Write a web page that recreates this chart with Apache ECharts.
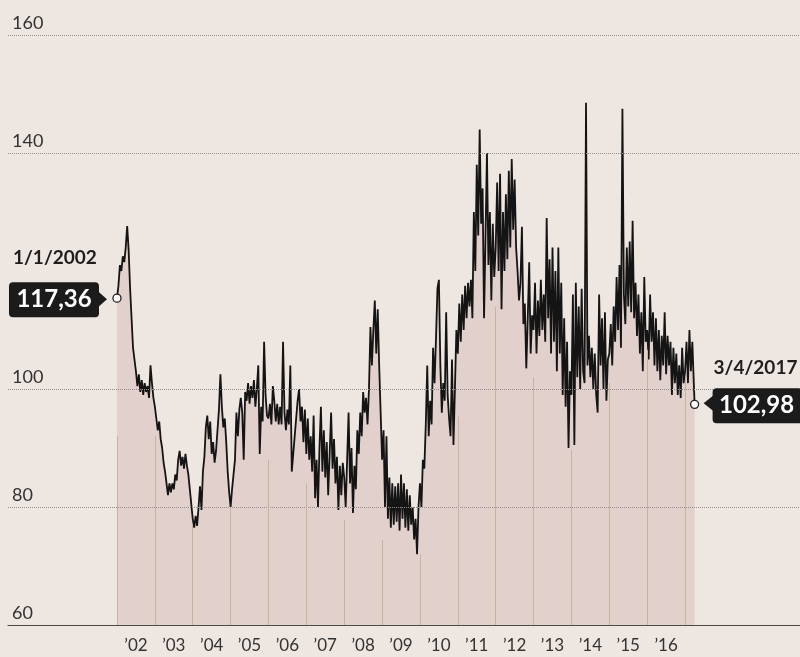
<!DOCTYPE html>
<html><head><meta charset="utf-8">
<script src="https://cdn.jsdelivr.net/npm/echarts@6/dist/echarts.min.js"></script>
<style>html,body{margin:0;padding:0;background:#EDE6E1;}#c{width:800px;height:657px;}</style>
</head><body><div id="c"></div>
<script>
// ---- data (26 samples per year) ----
const years = [2002,2003,2004,2005,2006,2007,2008,2009,2010,2011,2012,2013,2014,2015,2016,2017];
const v2002 = [115.4,117.5,121,120,122.5,121.5,124,127.6,123.5,117,112,107,105,103,100.5,102.5,99.5,101.5,99,101,99.5,100.5,98.5,104,101,98.5];
const v2003 = [97,95,93,94.5,91.5,90,87.5,86,84,82,84,82.5,84,83,85.5,84.5,88,89.5,87,88.5,86.5,89,87,85.5,83,80.5];
const v2004 = [78,76.5,78.5,76.8,80,83.5,79.5,86,88.5,93.5,95.5,91.5,94.5,89,91,87.5,89.5,93,96.5,102.5,97,93.5,95,91,86,82.5];
const v2005 = [80,83,85.5,88,96,92,96.5,98.5,96,88,99.5,98,101,97.5,100.5,98.5,101.5,97,100,104,89,97,94.5,108,99,95.5];
const v2006 = [95,97.5,94,100.5,98,94.5,97.5,94,97,94,108,96,93,96.5,94,104,86,89,92,95,98,100,94.5,97,91,96.5];
const v2007 = [89,95,88,92,86,95.5,81.5,88,80,90,97,86,93,85,91,82,89,96,86.5,91.5,84,88.5,79.5,87,82,87.5];
const v2008 = [85,80,88,96,84,90,79,87,83,93,89,96,92,99.5,96,98.5,94,100,110.5,104,110,115,106,113.5,104,96];
const v2009 = [88,93,80,92,78,85,76.5,84,77,83.5,77.5,84,76,85.5,78,84,76.5,83,76,82,77,80,74.5,78,72,80];
const v2010 = [84,80,88,86.5,94,104,92,98,94,107,101,108.5,117,118.5,104,96,101,98,113,99,95,92,105,90.5,100,110];
const v2011 = [106,114.5,108,116,110,117.5,112,118,114,118.5,112,130,120,138,126,144,128,134,112,126,140,121,130,115,128,119];
const v2012 = [124,135,120,136.5,113.5,130,120,133,122,137,124,139,127,135.5,124,120,115,118,127.5,111,114.5,103.5,112,121.5,106,112.5];
const v2013 = [110,118,106,115,109,118.5,110,116,108,129,112,122,106,124,108,120,103,124,106,118,99,112,97,108,90,103];
const v2014 = [99,116,90.5,118,102,114,100,117,103,101,148.5,104,109,102,107,100,106,99,96,116,104,112,100,113,98,105];
const v2015 = [106,111,104,114,108,119,110,121,107,147.5,116,111,124,114,125,113,128.5,112,118,109,116,106,113,103,119,108];
const v2016 = [110,105,116,108,113,104,112,103,110,101.5,109,104,113,102.5,109,104,108,99,107,101,106,99,104,98.5,107,101];
const v2017 = [103,108,101,110,103,108,101];
const endYear = 2017.252;
const endValue = 97.4;
const startDateText = '1/1/2002';
const startValueText = '117,36';
const endDateText = '3/4/2017';
const endValueText = '102,98';
const yLabelValues = [60, 80, 100, 140, 160];
const gridValues = [80, 100, 140, 160];
const yearLineTops = [92,92,77,80,88,84,77.8,74.4,72,95.3,113.9,102,89.7,101,106.6,102];
const xLabelYears = [2002,2003,2004,2005,2006,2007,2008,2009,2010,2011,2012,2013,2014,2015,2016];

const perYear = [v2002,v2003,v2004,v2005,v2006,v2007,v2008,v2009,v2010,v2011,v2012,v2013,v2014,v2015,v2016,v2017];
const data = [];
years.forEach((y, k) => perYear[k].forEach((v, i) => data.push([y + i / 26, v])));
data.push([endYear, endValue]);

const FONT = 'Lato, "Open Sans", sans-serif';
const chart = echarts.init(document.getElementById('c'));

const markLineData = gridValues.map(v => ({
  yAxis: v, lineStyle: { type: 'dotted', color: '#8f8f8f', width: 1 }
})).concat(years.map((y, k) => [
  { coord: [y, 60], lineStyle: { type: 'solid', color: '#c6b49d', width: 1 } },
  { coord: [y, yearLineTops[k]] }
]));

chart.setOption({
  backgroundColor: '#EDE6E1',
  animation: false,
  grid: { left: 8, right: 0, top: 35, bottom: 32 },
  xAxis: {
    type: 'value', min: 1999.122, max: 2020.035,
    axisLine: { show: true, lineStyle: { color: '#4a4a4a', width: 1 } },
    axisTick: { show: false }, splitLine: { show: false },
    axisLabel: {
      customValues: xLabelYears.map(y => y + 0.5),
      formatter: v => '\u2019' + String(Math.floor(v)).slice(2),
      color: '#333', fontFamily: FONT, fontSize: 17, margin: 12
    }
  },
  yAxis: {
    type: 'value', min: 60, max: 160, interval: 20,
    axisLine: { show: false }, axisTick: { show: false }, splitLine: { show: false },
    axisLabel: {
      inside: true, margin: 4, verticalAlign: 'bottom', padding: [0, 0, 3, 0],
      formatter: v => yLabelValues.includes(v) ? String(v) : '',
      color: '#333', fontFamily: FONT, fontSize: 18
    }
  },
  series: [{
    type: 'line', data: data, showSymbol: false, z: 3,
    lineStyle: { color: '#141414', width: 1.8 },
    areaStyle: { color: '#E2D0CD', opacity: 1, origin: 'start' },
    markLine: { silent: true, symbol: ['none', 'none'], label: { show: false }, data: markLineData },
    markPoint: {
      silent: true, symbol: 'circle', symbolSize: 8, label: { show: false },
      itemStyle: { color: '#ffffff', borderColor: '#222', borderWidth: 1.3 },
      data: [{ coord: data[0] }, { coord: [endYear, endValue] }]
    }
  }]
});

const p0 = chart.convertToPixel({ xAxisIndex: 0, yAxisIndex: 0 }, data[0]);
const p1 = chart.convertToPixel({ xAxisIndex: 0, yAxisIndex: 0 }, [endYear, endValue]);
const txt = (x, y, text, size, color, align) => ({
  type: 'text', z: 100, style: { x, y, text, fill: color, font: 'bold ' + size + 'px ' + FONT,
    align: align, textAlign: align, verticalAlign: 'middle', textVerticalAlign: 'middle' }
});
chart.setOption({
  graphic: [
    txt(p0[0] - 104, p0[1] - 40, startDateText, 19, '#1e1e1e', 'left'),
    { type: 'rect', z: 100, shape: { x: p0[0] - 108, y: p0[1] - 16, width: 90, height: 35, r: 4 }, style: { fill: '#1b1b1b' } },
    { type: 'polygon', z: 100, shape: { points: [[p0[0] - 19, p0[1] - 7], [p0[0] - 10, p0[1] + 1], [p0[0] - 19, p0[1] + 9]] }, style: { fill: '#1b1b1b' } },
    txt(p0[0] - 63, p0[1] + 1.5, startValueText, 24, '#ffffff', 'center'),
    txt(p1[0] + 19, p1[1] - 36, endDateText, 19, '#1e1e1e', 'left'),
    { type: 'rect', z: 100, shape: { x: p1[0] + 18, y: p1[1] - 16, width: 90, height: 35, r: 4 }, style: { fill: '#1b1b1b' } },
    { type: 'polygon', z: 100, shape: { points: [[p1[0] + 9, p1[1] - 1], [p1[0] + 19, p1[1] - 9], [p1[0] + 19, p1[1] + 7]] }, style: { fill: '#1b1b1b' } },
    txt(p1[0] + 62, p1[1] + 1, endValueText, 24, '#ffffff', 'center')
  ]
});
</script></body></html>
